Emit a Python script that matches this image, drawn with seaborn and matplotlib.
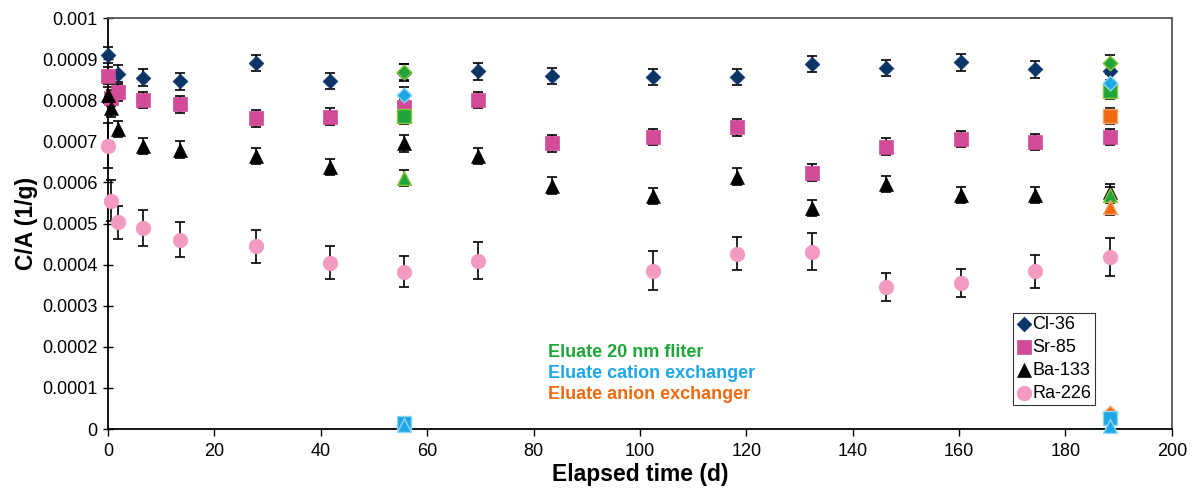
import numpy as np
import pandas as pd
import seaborn as sns
import matplotlib
matplotlib.use('Agg')
import matplotlib.pyplot as plt

# sampling times (d)
t_all = [0, 0.5, 1.9, 6.5, 13.5, 27.8, 41.8, 55.6, 69.6, 83.5, 102.5, 118.3, 132.3, 146.3, 160.3, 174.3, 188.4]
t_cl = [0, 1.9, 6.5, 13.5, 27.8, 41.8, 55.6, 69.6, 83.5, 102.5, 118.3, 132.3, 146.3, 160.3, 174.3, 188.4]
t_ra = [0, 0.5, 1.9, 6.5, 13.5, 27.8, 41.8, 55.6, 69.6, 102.5, 118.3, 132.3, 146.3, 160.3, 174.3, 188.4]

cl36 = [0.00091, 0.000865, 0.000855, 0.000846, 0.000891, 0.000847, 0.000867, 0.00087, 0.000859,
        0.000857, 0.000857, 0.000888, 0.000879, 0.000892, 0.000875, 0.00087]
sr85 = [0.00086, 0.000805, 0.000819, 0.0008, 0.00079, 0.000756, 0.00076, 0.000784, 0.0008, 0.000695,
        0.00071, 0.000734, 0.000624, 0.000687, 0.000705, 0.000698, 0.000711]
ba133 = [0.000813, 0.00078, 0.00073, 0.000689, 0.00068, 0.000664, 0.000638, 0.000695, 0.000664, 0.000592,
         0.000567, 0.000614, 0.000538, 0.000596, 0.000569, 0.000569, 0.000577]
ra226 = [0.000689, 0.000555, 0.000503, 0.00049, 0.000461, 0.000445, 0.000405, 0.000383, 0.00041,
         0.000385, 0.000426, 0.000431, 0.000345, 0.000356, 0.000384, 0.000418]
ra226_err = [0.000055, 0.00005, 0.00004, 0.000044, 0.000043, 0.00004, 0.00004, 0.000037, 0.000045,
             0.000047, 0.00004, 0.000045, 0.000034, 0.000034, 0.00004, 0.000046]
small_err = 0.00002

# eluates at day 55.6 and 188.4
t_eluate = [55.6, 188.4]
filt_cl = [0.000868, 0.00089]
filt_sr = [0.000762, 0.000823]
filt_ba = [0.000611, 0.000569]
cat_cl = [0.000813, 0.000843]
cat_sr = [0.000015, 0.000026]
cat_ba = [0.00001, 0.000007]
t_anion = [188.4]
an_cl = [0.00004]
an_sr = [0.000762]
an_ba = [0.000541]

sns.set_style('white')
plt.rcParams['font.family'] = ['Liberation Sans', 'DejaVu Sans']
plt.rcParams['text.color'] = 'black'
plt.rcParams['axes.labelcolor'] = 'black'
plt.rcParams['xtick.color'] = 'black'
plt.rcParams['ytick.color'] = 'black'

fig = plt.figure(figsize=(11.97, 4.95), dpi=100)
ax = fig.add_axes([0.0902, 0.1333, 0.8888, 0.8303])

navy = '#0b3568'
magenta = '#d14b97'
pink = '#f29ac0'
green = '#1fa63a'
cyan = '#1ea7e6'
orange = '#f0690f'

main = [
    ('Cl-36', t_cl, cl36, [small_err] * len(cl36), 'D', 7.5, navy),
    ('Sr-85', t_all, sr85, [small_err] * len(sr85), 's', 9.5, magenta),
    ('Ba-133', t_all, ba133, [small_err] * len(ba133), '^', 10, 'black'),
    ('Ra-226', t_ra, ra226, ra226_err, 'o', 10.5, pink),
]

for name, t, y, e, m, ms, c in main:
    ax.errorbar(t, y, yerr=e, fmt='none', ecolor='black', elinewidth=1.2, capsize=3.5, capthick=1.2,
                zorder=2, clip_on=False)
    df = pd.DataFrame({'t': t, 'y': y})
    sns.scatterplot(data=df, x='t', y='y', marker=m, s=ms ** 2, color=c, edgecolor=c, linewidth=0.5,
                    ax=ax, zorder=3, label=name, clip_on=False)

# orange first so the cyan near-zero points sit on top of it
eluates = [
    (t_eluate, filt_cl, filt_sr, filt_ba, green, '#8dc63f'),
    (t_anion, an_cl, an_sr, an_ba, orange, '#f7a36a'),
    (t_eluate, cat_cl, cat_sr, cat_ba, cyan, '#8fd6f4'),
]
for t, ycl, ysr, yba, c, ec in eluates:
    for y, m, ms in [(ycl, 'D', 7.5), (ysr, 's', 9.5), (yba, '^', 10)]:
        y = np.array(y)
        big = y > 0.0001
        if big.any():
            ax.errorbar(np.array(t)[big], y[big], yerr=small_err, fmt='none', ecolor='black',
                        elinewidth=1.2, capsize=3.5, capthick=1.2, zorder=2)
        df = pd.DataFrame({'t': t, 'y': y})
        sns.scatterplot(data=df, x='t', y='y', marker=m, s=ms ** 2, color=c, edgecolor=ec, linewidth=1.0,
                        ax=ax, zorder=4, legend=False, clip_on=False)

ax.text(82.7, 0.000185, 'Eluate 20 nm fliter', color=green, fontsize=13, fontweight='bold', va='center')
ax.text(82.7, 0.000134, 'Eluate cation exchanger', color=cyan, fontsize=13, fontweight='bold', va='center')
ax.text(82.7, 0.000083, 'Eluate anion exchanger', color=orange, fontsize=13, fontweight='bold', va='center')

ax.set_xlim(0, 200)
ax.set_ylim(0, 0.001)
ax.set_xticks(np.arange(0, 201, 20))
ax.set_yticks(np.arange(0, 0.00101, 0.0001))
ax.set_yticklabels(['0', '0.0001', '0.0002', '0.0003', '0.0004', '0.0005', '0.0006', '0.0007',
                    '0.0008', '0.0009', '0.001'])
ax.tick_params(axis='y', direction='inout', length=7, width=1, labelsize=13, left=True, pad=4)
ax.tick_params(axis='x', direction='out', length=5, width=1, labelsize=13, bottom=True, pad=5)
ax.set_xlabel('Elapsed time (d)', fontsize=16.5, fontweight='bold', labelpad=2)
ax.set_ylabel('C/A (1/g)', fontsize=16.5, fontweight='bold', labelpad=3)

for s in ['left', 'bottom']:
    ax.spines[s].set_color('black')
    ax.spines[s].set_linewidth(1.3)
for s in ['top', 'right']:
    ax.spines[s].set_color('#555555')
    ax.spines[s].set_linewidth(1.3)

leg = ax.legend(loc='lower right', bbox_to_anchor=(0.9276, 0.058), fontsize=13, frameon=True, fancybox=False,
                handletextpad=0.05, handlelength=0.8, borderpad=0.2, labelspacing=0.32, borderaxespad=0)
leg.get_frame().set_edgecolor('black')
leg.get_frame().set_linewidth(0.8)

plt.savefig('out.png', dpi=100)
